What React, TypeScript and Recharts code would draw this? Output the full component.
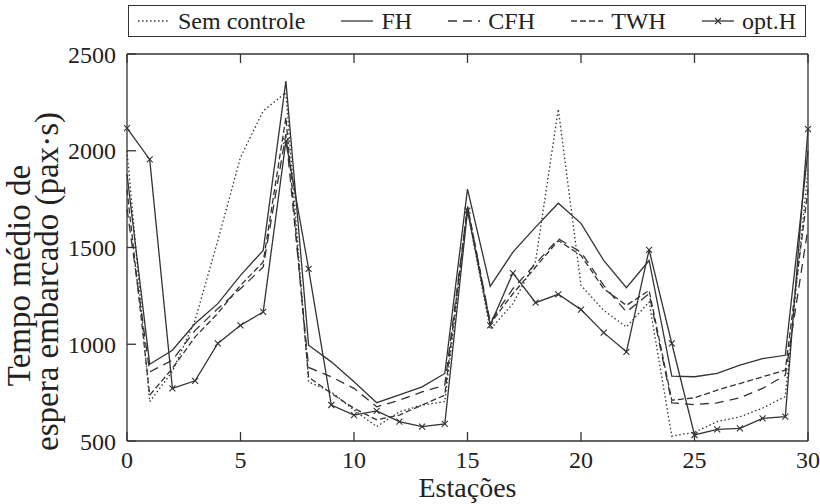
import React from 'react';
import { LineChart, Line, XAxis, YAxis } from 'recharts';

// Estações 0..30
const stations = [
  0, 1, 2, 3, 4, 5, 6, 7, 8, 9, 10, 11, 12, 13, 14, 15,
  16, 17, 18, 19, 20, 21, 22, 23, 24, 25, 26, 27, 28, 29, 30,
];

const semControle = [
  2000, 703, 860, 1124, 1536, 1966, 2206, 2300, 806, 754, 660, 574, 651, 686, 703, 1690,
  1076, 1210, 1430, 2215, 1304, 1175, 1089, 1218, 525, 545, 600, 625, 670, 730, 1900,
];
const fh = [
  1880, 897, 969, 1107, 1210, 1356, 1485, 2360, 995, 909, 806, 698, 738, 780, 849, 1802,
  1299, 1476, 1605, 1729, 1625, 1433, 1292, 1433, 835, 832, 849, 892, 926, 943, 2000,
];
const cfh = [
  1700, 857, 918, 1072, 1184, 1287, 1399, 2086, 880, 832, 772, 677, 711, 754, 789, 1708,
  1115, 1287, 1416, 1545, 1476, 1304, 1167, 1261, 697, 688, 697, 723, 772, 840, 1600,
];
const twh = [
  1800, 737, 875, 1038, 1160, 1304, 1425, 2172, 830, 746, 669, 609, 634, 686, 737, 1717,
  1107, 1261, 1399, 1536, 1459, 1287, 1201, 1278, 711, 723, 763, 797, 832, 866, 1800,
];
const optH = [
  2117, 1955, 772, 811, 1004, 1098, 1167, 2050, 1390, 686, 634, 656, 600, 574, 588, 1690,
  1098, 1368, 1215, 1258, 1179, 1060, 961, 1488, 1004, 531, 560, 565, 617, 626, 2112,
];

const xTicks = [0, 5, 10, 15, 20, 25, 30];
const yTicks = [500, 1000, 1500, 2000, 2500];

const data = stations.map((s, i) => ({
  s,
  sem: semControle[i],
  fh: fh[i],
  cfh: cfh[i],
  twh: twh[i],
  opt: optH[i],
}));

const INK = '#333';
const FONT = "'Liberation Serif', serif";

const DASH = {
  sem: '1.5 2.5',
  cfh: '9 6',
  twh: '6 3',
};

function Cross(props: any) {
  const { cx, cy, index } = props;
  if (cx == null || cy == null) return <g key={index} />;
  const r = 3;
  return (
    <path
      key={index}
      d={`M${cx - r},${cy - r}L${cx + r},${cy + r}M${cx - r},${cy + r}L${cx + r},${cy - r}`}
      stroke={INK}
      strokeWidth={1.1}
      fill="none"
    />
  );
}

// two-line rotated y label, a bit below the plot centre as in the original
function YLabel(props: any) {
  const vb = props.viewBox || { x: 0, y: 0, width: 0, height: 0 };
  const cy = vb.y + vb.height / 2 + 34;
  return (
    <g style={{ fontFamily: FONT, fontSize: 33 }} fill="#222">
      <text x={19} y={cy - 6} textAnchor="middle" dominantBaseline="central" transform={`rotate(-90 19 ${cy - 6})`}>
        Tempo médio de
      </text>
      <text x={47} y={cy} textAnchor="middle" dominantBaseline="central" transform={`rotate(-90 47 ${cy})`}>
        espera embarcado (pax·s)
      </text>
    </g>
  );
}

function XLabel(props: any) {
  const vb = props.viewBox || { x: 0, y: 0, width: 0, height: 0 };
  return (
    <text x={vb.x + vb.width / 2} y={vb.y + 56} textAnchor="middle" style={{ fontFamily: FONT, fontSize: 28 }} fill="#222">
      Estações
    </text>
  );
}

function Sample({ dash, marker }: { dash?: string; marker?: boolean }) {
  return (
    <svg width={32} height={10} style={{ display: 'block' }}>
      <line x1={0} y1={5} x2={32} y2={5} stroke={INK} strokeWidth={1.3} strokeDasharray={dash} />
      {marker && <path d="M13,2L19,8M13,8L19,2" stroke={INK} strokeWidth={1.1} />}
    </svg>
  );
}

const legendItems = [
  { label: 'Sem controle', dash: DASH.sem },
  { label: 'FH' },
  { label: 'CFH', dash: DASH.cfh },
  { label: 'TWH', dash: DASH.twh },
  { label: 'opt.H', marker: true },
];

export default function App() {
  const tickStyle = { fontSize: 24, fill: '#222', fontFamily: FONT };
  const axisLine = { stroke: INK, strokeWidth: 1.3 };
  return (
    <div style={{ position: 'absolute', left: 0, top: 0, width: 820, height: 504, background: '#fff', fontFamily: FONT }}>
      <div
        style={{
          position: 'absolute',
          left: 128,
          top: 5,
          width: 678,
          height: 32,
          border: `1px solid ${INK}`,
          display: 'flex',
          alignItems: 'center',
          justifyContent: 'space-between',
          padding: '0 9px',
          boxSizing: 'border-box',
          fontSize: 24,
          color: '#222',
        }}
      >
        {legendItems.map((it) => (
          <div key={it.label} style={{ display: 'flex', alignItems: 'center' }}>
            <Sample dash={it.dash} marker={it.marker} />
            <span style={{ marginLeft: 8, lineHeight: '28px' }}>{it.label}</span>
          </div>
        ))}
      </div>
      <LineChart width={820} height={504} data={data} margin={{ top: 53, right: 11, bottom: 0, left: 67 }} style={{ fontFamily: FONT }}>
        <XAxis
          xAxisId="b"
          dataKey="s"
          type="number"
          domain={[0, 30]}
          ticks={xTicks}
          height={63}
          tickSize={-9}
          tickMargin={19}
          axisLine={axisLine}
          tickLine={axisLine}
          tick={tickStyle}
          label={<XLabel />}
        />
        <XAxis
          xAxisId="t"
          dataKey="s"
          type="number"
          orientation="top"
          domain={[0, 30]}
          ticks={xTicks}
          height={1}
          tickSize={-9}
          axisLine={axisLine}
          tickLine={axisLine}
          tickFormatter={() => ''}
        />
        <YAxis
          yAxisId="l"
          type="number"
          domain={[500, 2500]}
          ticks={yTicks}
          width={60}
          tickSize={-9}
          tickMargin={20}
          axisLine={axisLine}
          tickLine={axisLine}
          tick={tickStyle}
          label={<YLabel />}
        />
        <YAxis
          yAxisId="r"
          type="number"
          orientation="right"
          domain={[500, 2500]}
          ticks={yTicks}
          width={1}
          tickSize={-9}
          axisLine={axisLine}
          tickLine={axisLine}
          tickFormatter={() => ''}
        />
        <Line xAxisId="b" yAxisId="l" dataKey="sem" stroke={INK} strokeWidth={1.3} strokeDasharray={DASH.sem} dot={false} isAnimationActive={false} />
        <Line xAxisId="b" yAxisId="l" dataKey="fh" stroke={INK} strokeWidth={1.3} dot={false} isAnimationActive={false} />
        <Line xAxisId="b" yAxisId="l" dataKey="cfh" stroke={INK} strokeWidth={1.3} strokeDasharray={DASH.cfh} dot={false} isAnimationActive={false} />
        <Line xAxisId="b" yAxisId="l" dataKey="twh" stroke={INK} strokeWidth={1.3} strokeDasharray={DASH.twh} dot={false} isAnimationActive={false} />
        <Line xAxisId="b" yAxisId="l" dataKey="opt" stroke={INK} strokeWidth={1.3} dot={<Cross />} isAnimationActive={false} />
      </LineChart>
    </div>
  );
}
